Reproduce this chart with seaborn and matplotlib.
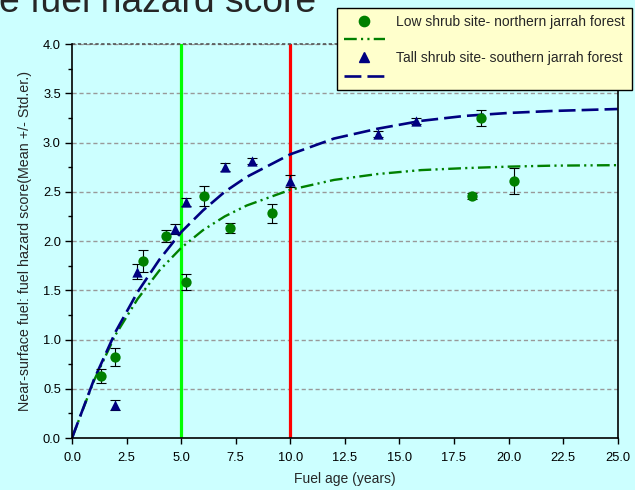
import numpy as np
import pandas as pd
import matplotlib
matplotlib.use("Agg")
import matplotlib.pyplot as plt
from matplotlib.lines import Line2D
import seaborn as sns

# observed site means (fuel age, score, std. error)
low_age = [1.32, 1.99, 3.24, 4.31, 5.23, 6.06, 7.25, 9.17, 18.33, 18.75, 20.26]
low_score = [0.63, 0.82, 1.80, 2.05, 1.58, 2.46, 2.13, 2.28, 2.46, 3.25, 2.61]
low_err = [0.07, 0.09, 0.11, 0.06, 0.08, 0.10, 0.05, 0.10, 0.03, 0.08, 0.13]

tall_age = [1.99, 2.98, 4.72, 5.23, 6.99, 8.24, 10.0, 14.0, 15.77]
tall_score = [0.335, 1.69, 2.12, 2.40, 2.75, 2.81, 2.61, 3.09, 3.22]
tall_err = [0.05, 0.08, 0.05, 0.04, 0.04, 0.03, 0.06, 0.03, 0.03]

# fitted curves
curve_age = [0, 1, 2, 3, 4, 5, 6, 7, 8, 10, 12, 14, 16, 18, 20, 22, 25]
low_curve = [0, 0.58, 1.05, 1.41, 1.70, 1.93, 2.11, 2.25, 2.36, 2.52, 2.62,
             2.68, 2.72, 2.74, 2.755, 2.765, 2.77]
tall_curve = [0, 0.59, 1.08, 1.48, 1.81, 2.09, 2.31, 2.50, 2.65, 2.88, 3.04,
              3.14, 3.22, 3.27, 3.30, 3.32, 3.34]

low_label = "Low shrub site- northern jarrah forest"
tall_label = "Tall shrub site- southern jarrah forest"

bg = "#CCFFFF"
green = "#008000"
navy = "#000080"
green_dash = [5.4, 1.8, 0.9, 1.8, 0.9, 1.8]
navy_dash = [6.4, 2.3]

sns.set_style("white", {"axes.facecolor": bg, "figure.facecolor": bg})
plt.rcParams["font.family"] = ["Liberation Sans", "DejaVu Sans"]

fig = plt.figure(figsize=(6.35, 4.9), dpi=100)
ax = fig.add_axes([0.1134, 0.1061, 0.8593, 0.8041])

for y in np.arange(0.5, 4.01, 0.5):
    ax.axhline(y, color="#999999", lw=1, ls=(0, (3, 2)), zorder=0)

ax.axvline(5, color="#00FF00", lw=2.3, zorder=1)
ax.axvline(10, color="#FF0000", lw=2.3, zorder=1)

curves = pd.DataFrame({"age": curve_age, "low": low_curve, "tall": tall_curve})
sns.lineplot(data=curves, x="age", y="low", ax=ax, color=green, lw=1.7,
             zorder=2).lines[-1].set_dashes(green_dash)
sns.lineplot(data=curves, x="age", y="tall", ax=ax, color=navy, lw=1.9,
             zorder=2).lines[-1].set_dashes(navy_dash)

ax.errorbar(low_age, low_score, yerr=low_err, fmt="none", ecolor="black",
            elinewidth=0.8, capsize=3.5, capthick=0.8, zorder=3)
ax.errorbar(tall_age, tall_score, yerr=tall_err, fmt="none", ecolor="black",
            elinewidth=0.8, capsize=3.5, capthick=0.8, zorder=3)

sns.scatterplot(x=low_age, y=low_score, ax=ax, color=green, marker="o",
                s=55, edgecolor=green, linewidth=0, zorder=4)
sns.scatterplot(x=tall_age, y=tall_score, ax=ax, color=navy, marker="^",
                s=55, edgecolor=navy, linewidth=0, zorder=4)

ax.set_xlim(0, 25)
ax.set_ylim(0, 4.0)
ax.set_xticks(np.arange(0, 25.1, 2.5))
ax.set_xticklabels([f"{v:.1f}" for v in np.arange(0, 25.1, 2.5)])
ax.set_yticks(np.arange(0, 4.01, 0.5))
ax.set_yticklabels([f"{v:.1f}" for v in np.arange(0, 4.01, 0.5)])
ax.set_yticks(np.arange(0.25, 4.0, 0.5), minor=True)
ax.tick_params(axis="both", which="both", direction="out", colors="black",
               labelsize=9.3, width=1, left=True, bottom=True)
ax.tick_params(axis="y", which="major", length=5, pad=3)
ax.tick_params(axis="y", which="minor", length=3)
ax.tick_params(axis="x", which="major", length=4, pad=6)

for side in ["left", "bottom", "right"]:
    ax.spines[side].set_color("black")
    ax.spines[side].set_linewidth(1.2)
ax.spines["top"].set_visible(False)
ax.axhline(4.0, color="#555555", lw=1.2, ls=(0, (2, 1.5)), zorder=1, clip_on=False)

ax.set_xlabel("Fuel age (years)", fontsize=10, labelpad=6)
ax.set_ylabel("Near-surface fuel: fuel hazard score(Mean +/- Std.er.)",
              fontsize=10.3, labelpad=8)

fig.text(-0.002, 1 - 12 / 490, "e fuel hazard score", fontsize=26.8,
         ha="left", va="baseline")

handles = [
    Line2D([], [], color=green, marker="o", ls="none", markersize=7.4),
    Line2D([], [], color=green, lw=1.7, dashes=green_dash),
    Line2D([], [], color=navy, marker="^", ls="none", markersize=7.4),
    Line2D([], [], color=navy, lw=1.9, dashes=navy_dash),
]
leg = fig.legend(handles, [low_label, "", tall_label, ""],
                 loc="upper left", bbox_to_anchor=(337 / 635, 1 - 8 / 490),
                 fontsize=10, frameon=True, fancybox=False, framealpha=1,
                 facecolor="#FFFFCC", edgecolor="black", labelspacing=0.3,
                 handlelength=2.95, handletextpad=0.8, borderpad=0.5,
                 borderaxespad=0)
leg.get_frame().set_linewidth(1.0)

fig.savefig("out.png", dpi=100, facecolor=bg)
